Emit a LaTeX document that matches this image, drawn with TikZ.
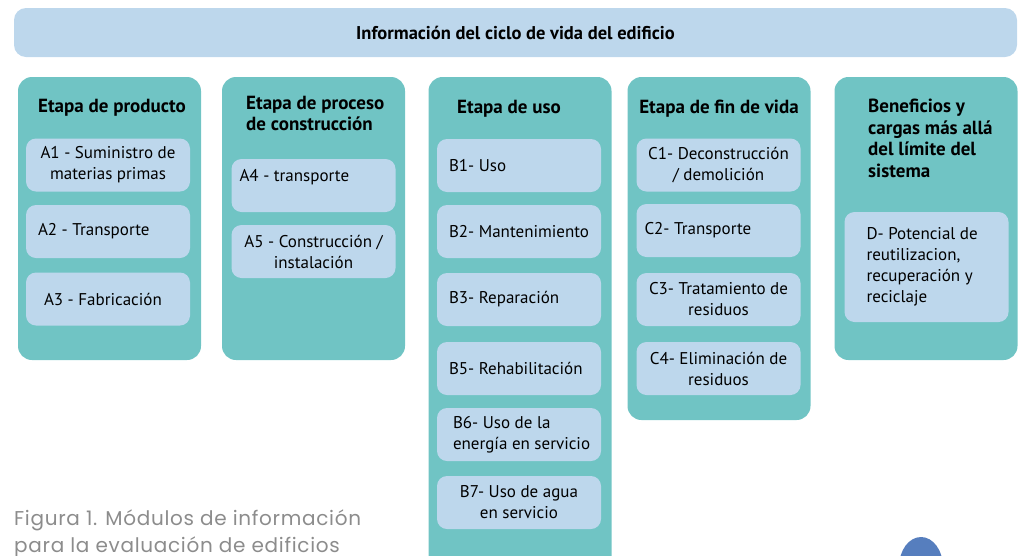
\documentclass[tikz,border=0pt]{standalone}
\usepackage{fontspec}
\setmainfont{PT Sans}
\newfontfamily\captionfont[LetterSpace=3.5]{Poppins}
\usetikzlibrary{positioning}
\definecolor{stageteal}{RGB}{112,196,196}
\definecolor{itemblue}{RGB}{189,215,236}
\definecolor{dropblue}{RGB}{86,126,190}
\definecolor{captiongray}{RGB}{140,140,140}

\begin{document}
\begin{tikzpicture}[x=1pt, y=-1pt,
    stage/.style = {fill=stageteal, rounded corners=14pt, minimum width=183pt},
    item/.style = {fill=itemblue, rounded corners=10pt, minimum width=164pt, minimum height=53pt, inner sep=0pt, align=center, font=\fontsize{17}{21}\selectfont},
    itemtext/.style = {anchor=west, inner sep=0pt, align=left, xshift=#1, font=\fontsize{17}{21}\selectfont},
    itemtext/.default = 12pt,
    heading/.style = {inner sep=0pt, font=\bfseries\fontsize{19}{21.5}\selectfont}]
      \useasboundingbox (0,0) rectangle (1023,555);

      % barra superior
      \node[item, minimum width=1003pt, minimum height=49pt, rounded corners=12pt, font=\bfseries\fontsize{18.5}{20}\selectfont] (ciclo) at (515.5,32.5) {Información del ciclo de vida del edificio};

      % etapas
      \node[stage, minimum height=283pt] (producto) at (109.5,218.5) {};
      \node[stage, minimum height=283pt] (proceso) at (313.5,218.5) {};
      \node[stage, minimum height=498pt] (uso) at (520,326) {};
      \node[stage, minimum height=343pt] (fin) at (719,248.5) {};
      \node[stage, minimum height=283pt] (beneficios) at (926,218.5) {};

      \node[heading] (productoT) at (112,108) {Etapa de producto};
      \node[heading, anchor=west, align=left] (procesoT) at (246,113.5) {Etapa de proceso\\de construcción};
      \node[heading] (usoT) at (509,109) {Etapa de uso};
      \node[heading] (finT) at (719,109) {Etapa de fin de vida};
      \node[heading, anchor=west, align=left] (beneficiosT) at (868,138.5) {Beneficios y\\cargas más allá\\del límite del\\sistema};

      % modulos A
      \node[item] (A1) at (108,165) {A1 - Suministro de\\materias primas};
      \node[item, label={[itemtext]west:A2 - Transporte}] (A2) at (108,231.5) {};
      \node[item, label={[itemtext=18pt]west:A3 - Fabricación}] (A3) at (108,299) {};
      \node[item, label={[itemtext=8pt, yshift=8pt]west:A4 - transporte}] (A4) at (313.5,185.5) {};
      \node[item] (A5) at (313.5,251.5) {A5 - Construcción /\\instalación};

      % modulos B
      \node[item, label={[itemtext]west:B1- Uso}] (B1) at (519,165.5) {};
      \node[item, label={[itemtext]west:B2- Mantenimiento}] (B2) at (519,231.5) {};
      \node[item, label={[itemtext]west:B3- Reparación}] (B3) at (519,299.5) {};
      \node[item, label={[itemtext]west:B5- Rehabilitación}] (B5) at (519,368.5) {};
      \node[item, label={[itemtext=16pt]west:B6- Uso de la\\energía en servicio}] (B6) at (519,434.5) {};
      \node[item] (B7) at (519,502.5) {B7- Uso de agua\\en servicio};

      % modulos C
      \node[item] (C1) at (718.5,165) {C1- Deconstrucción\\/ demolición};
      \node[item, label={[itemtext=8pt]west:C2- Transporte}] (C2) at (718.5,230.5) {};
      \node[item] (C3) at (718.5,299.5) {C3- Tratamiento de\\residuos};
      \node[item] (C4) at (718.5,368.5) {C4- Eliminación de\\residuos};

      % modulo D
      \node[item, minimum height=110pt, label={[itemtext=22pt]west:D- Potencial de\\reutilizacion,\\recuperación y\\reciclaje}] (D) at (926.5,267) {};

      % pie de figura
      \node[anchor=west, align=left, inner sep=0pt, text=captiongray, font=\captionfont\fontsize{20}{27}\selectfont] (pie) at (14,534) {Figura 1. Módulos de información\\para la evaluación de edificios};

      \fill[dropblue] (921,567) ellipse [x radius=22pt, y radius=30pt];
    \end{tikzpicture}
\end{document}
